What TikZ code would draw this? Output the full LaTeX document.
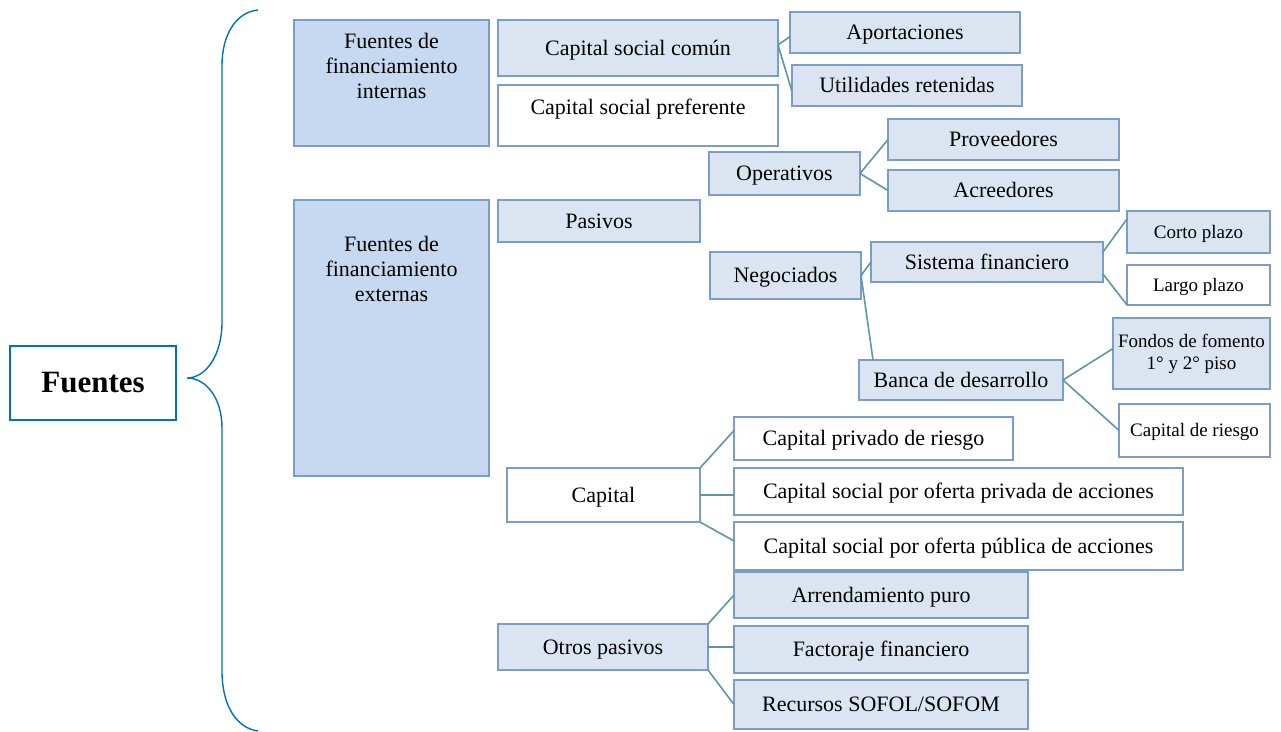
\documentclass[tikz,border=0pt]{standalone}
\usepackage{fontspec}
\setmainfont{Liberation Serif}
\definecolor{bord}{HTML}{7A9DCB}
\definecolor{fillL}{HTML}{DBE5F1}
\definecolor{fillD}{HTML}{C6D9F0}
\definecolor{conn}{HTML}{5F95AC}
\definecolor{bracec}{HTML}{0070C0}
\begin{document}
\begin{tikzpicture}[x=1pt,y=-1pt,
  bx/.style={draw=bord, line width=1.5pt, inner sep=0pt, outer sep=0pt, align=center,
             font=\fontsize{22}{25}\selectfont, text height=17pt, text depth=3pt},
  lb/.style={bx, fill=fillL},
  wb/.style={bx, fill=white},
  db/.style={bx, fill=fillD},
  sm/.style={font=\fontsize{19}{22}\selectfont, text height=15pt, text depth=3pt},
  ln/.style={draw=conn, line width=1.6pt},
  bigtxt/.style={anchor=north, align=center, font=\fontsize{22}{25}\selectfont, inner sep=0pt}]
\useasboundingbox (0,0) rectangle (1281,731);

% root
\node[draw=bracec, line width=1.4pt, inner sep=0pt, minimum width=166pt, minimum height=74pt,
      font=\bfseries\fontsize{31}{34}\selectfont] (fue) at (93,383) {Fuentes};
% brace
\draw[draw=bracec, line width=1.4pt]
  (258,10) .. controls (236,12) and (222,35) .. (222,65) -- (222,322)
  .. controls (222,355) and (206,378) .. (187,378)
  .. controls (206,378) and (222,398) .. (222,428) -- (222,671)
  .. controls (222,705) and (236,728) .. (258,731);

% left big boxes
\node[db, minimum width=195pt, minimum height=126pt,
      label={[bigtxt, yshift=-13pt]north:Fuentes de\\financiamiento\\internas}] (fint) at (391.5,83) {};
\node[db, minimum width=195pt, minimum height=276pt,
      label={[bigtxt, yshift=-36pt]north:Fuentes de\\financiamiento\\externas}] (fext) at (391.5,338) {};

% internas
\node[lb, minimum width=280pt, minimum height=56pt] (csc) at (638,48) {Capital social común};
\node[wb, minimum width=280pt, minimum height=61pt, text depth=19pt] (csp) at (638,115.5) {Capital social preferente};
\node[lb, minimum width=230pt, minimum height=41pt] (apo) at (905,32.5) {Aportaciones};
\node[lb, minimum width=230pt, minimum height=41pt] (uti) at (907,85.5) {Utilidades retenidas};

% pasivos
\node[lb, minimum width=202pt, minimum height=42pt] (pas) at (599,221) {Pasivos};
\node[lb, minimum width=151pt, minimum height=43pt] (ope) at (784.5,173.5) {Operativos};
\node[lb, minimum width=231pt, minimum height=41pt] (pro) at (1003.5,139.5) {Proveedores};
\node[lb, minimum width=231pt, minimum height=41pt] (acr) at (1003.5,190.5) {Acreedores};
\node[lb, minimum width=151pt, minimum height=47pt] (neg) at (785.5,275.5) {Negociados};
\node[lb, minimum width=232pt, minimum height=40pt] (sis) at (987,262) {Sistema financiero};
\node[lb, sm, minimum width=143pt, minimum height=42pt] (cor) at (1198.5,232) {Corto plazo};
\node[wb, sm, minimum width=143pt, minimum height=40pt] (lar) at (1198.5,285) {Largo plazo};
\node[lb, minimum width=204pt, minimum height=40pt] (ban) at (961,380) {Banca de desarrollo};
\node[lb, font=\fontsize{19}{22}\selectfont, text height=, text depth=, minimum width=157pt, minimum height=71pt] (fon) at (1191.5,353.5) {Fondos de fomento\\1° y 2° piso};
\node[wb, sm, minimum width=151pt, minimum height=53pt] (cri) at (1194.5,430.5) {Capital de riesgo};

% capital
\node[wb, minimum width=193pt, minimum height=54pt] (cap) at (603.5,495) {Capital};
\node[wb, minimum width=279pt, minimum height=43pt] (cpr) at (873.5,438.5) {Capital privado de riesgo};
\node[wb, minimum width=449pt, minimum height=47pt] (cspr) at (958.5,491.5) {Capital social por oferta privada de acciones};
\node[wb, minimum width=449pt, minimum height=48pt] (cspu) at (958.5,546) {Capital social por oferta pública de acciones};

% otros pasivos
\node[lb, minimum width=210pt, minimum height=46pt] (otr) at (603,647) {Otros pasivos};
\node[lb, minimum width=294pt, minimum height=46pt] (arr) at (881,595) {Arrendamiento puro};
\node[lb, minimum width=294pt, minimum height=47pt] (fac) at (881,649.5) {Factoraje financiero};
\node[lb, minimum width=294pt, minimum height=49pt] (rec) at (881,704.5) {Recursos SOFOL/SOFOM};

% connectors
\draw[ln] ([yshift=3pt]csc.east) -- ([yshift=-4pt]apo.west);
\draw[ln] ([yshift=3pt]csc.east) -- ([yshift=-6pt]uti.west);
\draw[ln] (ope.east) -- (pro.west);
\draw[ln] (ope.east) -- (acr.west);
\draw[ln] (neg.east) -- (sis.west);
\draw[ln] (neg.east) -- ([xshift=14pt]ban.north west);
\draw[ln] ([yshift=-10pt]sis.north east) -- ([yshift=-8pt]cor.north west);
\draw[ln] ([yshift=8pt]sis.south east) -- (lar.south west);
\draw[ln] (ban.east) -- ([yshift=5pt]fon.west);
\draw[ln] (ban.east) -- (cri.west);
\draw[ln] (cap.north east) -- ([yshift=8pt]cpr.west);
\draw[ln] (cap.east) -- (cap.east -| cspr.west);
\draw[ln] (cap.south east) -- ([yshift=5pt]cspu.west);
\draw[ln] (otr.north east) -- (arr.west);
\draw[ln] (otr.east) -- (fac.west |- otr.east);
\draw[ln] (otr.south east) -- (rec.west);
\end{tikzpicture}
\end{document}
